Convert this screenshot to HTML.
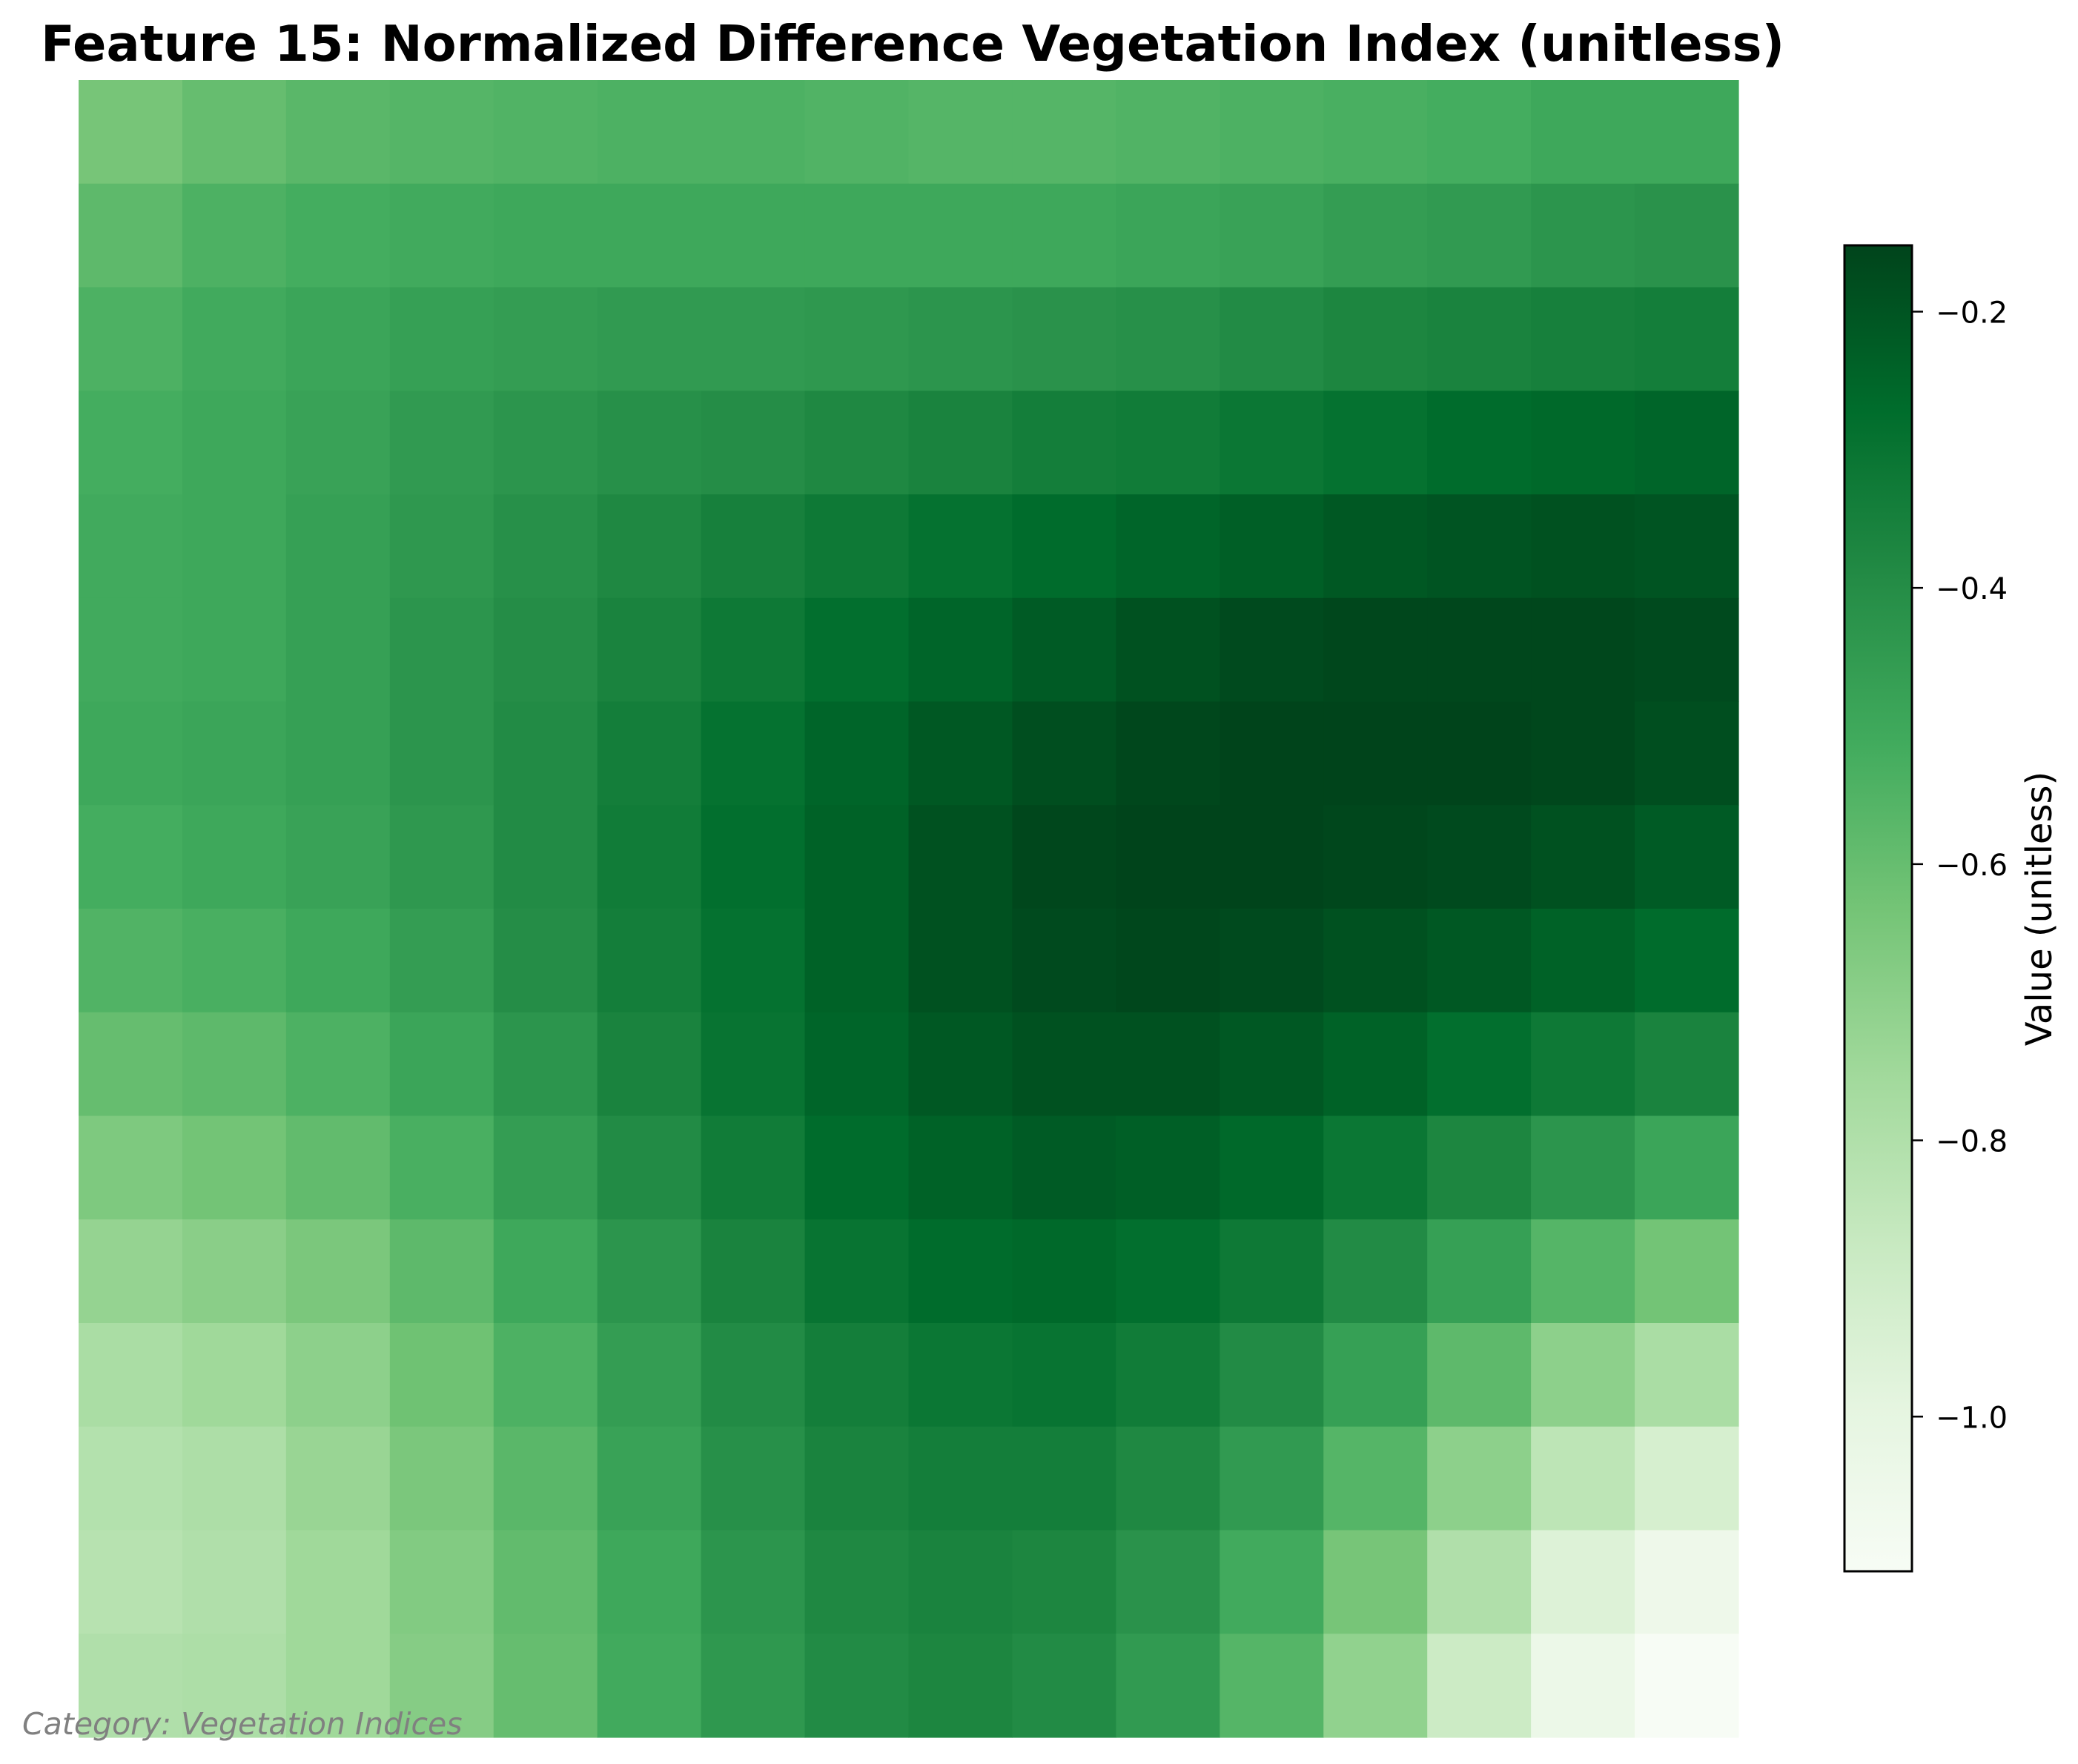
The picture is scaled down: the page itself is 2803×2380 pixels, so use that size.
<!DOCTYPE html>
<html><head><meta charset="utf-8"><style>
html,body{margin:0;padding:0;background:#fff;}
svg{display:block;}
text{font-family:"DejaVu Sans","Liberation Sans",sans-serif;}
</style></head><body>
<svg id="chart" width="2803" height="2380" viewBox="0 0 2803 2380" xmlns="http://www.w3.org/2000/svg">
<defs>
<linearGradient id="cbgrad" x1="0" y1="1" x2="0" y2="0">
<stop offset="0" stop-color="#f7fcf5"/><stop offset="0.125" stop-color="#e5f5e0"/><stop offset="0.25" stop-color="#c7e9c0"/><stop offset="0.375" stop-color="#a1d99b"/><stop offset="0.5" stop-color="#74c476"/><stop offset="0.625" stop-color="#41ab5d"/><stop offset="0.75" stop-color="#238b45"/><stop offset="0.875" stop-color="#006d2c"/><stop offset="1" stop-color="#00441b"/>
</linearGradient>
</defs>
<text x="55" y="82" font-size="67" font-weight="bold">Feature 15: Normalized Difference Vegetation Index (unitless)</text>
<g id="heat"></g>
<rect x="2488" y="331" width="91" height="1789" fill="url(#cbgrad)" stroke="#000" stroke-width="3"/>
<g id="cbticks"></g>
<text transform="translate(2767,1226) rotate(-90)" text-anchor="middle" font-size="48">Value (unitless)</text>
<text x="30" y="2340" font-size="41" font-style="italic" fill="#808080">Category: Vegetation Indices</text>
</svg>
<script>
const rowLabels = [0,1,2,3,4,5,6,7,8,9,10,11,12,13,14,15];
const colLabels = [0,1,2,3,4,5,6,7,8,9,10,11,12,13,14,15];
const values = [
[-0.64,-0.6,-0.57,-0.56,-0.55,-0.54,-0.54,-0.55,-0.56,-0.56,-0.55,-0.54,-0.53,-0.52,-0.5,-0.5],
[-0.58,-0.54,-0.52,-0.51,-0.5,-0.5,-0.5,-0.5,-0.5,-0.5,-0.49,-0.48,-0.46,-0.45,-0.43,-0.42],
[-0.54,-0.51,-0.49,-0.47,-0.46,-0.45,-0.45,-0.44,-0.43,-0.42,-0.41,-0.39,-0.37,-0.36,-0.35,-0.34],
[-0.52,-0.5,-0.48,-0.45,-0.43,-0.41,-0.4,-0.38,-0.36,-0.34,-0.33,-0.31,-0.29,-0.27,-0.26,-0.25],
[-0.51,-0.5,-0.47,-0.44,-0.41,-0.38,-0.35,-0.32,-0.29,-0.27,-0.25,-0.23,-0.21,-0.2,-0.19,-0.2],
[-0.51,-0.5,-0.47,-0.43,-0.4,-0.36,-0.32,-0.28,-0.25,-0.22,-0.19,-0.17,-0.16,-0.16,-0.16,-0.17],
[-0.5,-0.49,-0.47,-0.43,-0.39,-0.34,-0.29,-0.25,-0.21,-0.18,-0.16,-0.15,-0.15,-0.15,-0.16,-0.18],
[-0.52,-0.5,-0.48,-0.44,-0.39,-0.33,-0.28,-0.24,-0.19,-0.16,-0.15,-0.15,-0.16,-0.17,-0.19,-0.22],
[-0.55,-0.53,-0.5,-0.46,-0.4,-0.34,-0.29,-0.24,-0.19,-0.17,-0.16,-0.17,-0.19,-0.21,-0.24,-0.27],
[-0.6,-0.58,-0.54,-0.49,-0.43,-0.36,-0.3,-0.25,-0.21,-0.19,-0.19,-0.21,-0.24,-0.28,-0.32,-0.36],
[-0.66,-0.63,-0.59,-0.53,-0.46,-0.39,-0.33,-0.27,-0.24,-0.22,-0.23,-0.26,-0.31,-0.37,-0.43,-0.49],
[-0.72,-0.69,-0.65,-0.58,-0.5,-0.43,-0.36,-0.3,-0.27,-0.26,-0.28,-0.32,-0.39,-0.47,-0.56,-0.63],
[-0.78,-0.75,-0.7,-0.62,-0.54,-0.46,-0.39,-0.34,-0.31,-0.3,-0.33,-0.39,-0.47,-0.58,-0.7,-0.78],
[-0.81,-0.79,-0.73,-0.65,-0.57,-0.48,-0.41,-0.36,-0.34,-0.34,-0.38,-0.45,-0.56,-0.7,-0.84,-0.93],
[-0.82,-0.8,-0.75,-0.67,-0.59,-0.5,-0.43,-0.38,-0.36,-0.37,-0.42,-0.51,-0.64,-0.8,-0.96,-1.05],
[-0.8,-0.79,-0.75,-0.68,-0.6,-0.51,-0.44,-0.39,-0.37,-0.39,-0.45,-0.56,-0.71,-0.89,-1.04,-1.11]
];
const cbTicks = [-0.2,-0.4,-0.6,-0.8,-1.0];
const cbTickLabels = ["\u22120.2","\u22120.4","\u22120.6","\u22120.8","\u22121.0"];
const vmin = -1.112, vmax = -0.152;

const NS = "http://www.w3.org/2000/svg";
const X0=106, X1=2345, Y0=108, Y1=2344;
const CBY0=331, CBY1=2120;
const stops = ["#f7fcf5","#e5f5e0","#c7e9c0","#a1d99b","#74c476","#41ab5d","#238b45","#006d2c","#00441b"];
function hex(c){return [1,3,5].map(i=>parseInt(c.substr(i,2),16));}
function cmap(v){
  let t=(v-vmin)/(vmax-vmin); t=Math.max(0,Math.min(1,t));
  const p=t*8, i=Math.min(7,Math.floor(p)), f=p-i;
  const a=hex(stops[i]), b=hex(stops[i+1]);
  return "rgb("+a.map((x,k)=>Math.round(x+(b[k]-x)*f)).join(",")+")";
}
const xScale = c => X0 + (X1-X0)*c/colLabels.length;
const yScale = r => Y0 + (Y1-Y0)*r/rowLabels.length;
const cbScale = v => CBY1 - (v-vmin)/(vmax-vmin)*(CBY1-CBY0);

const heat = document.getElementById('heat');
rowLabels.forEach((r,ri)=>{
  colLabels.forEach((c,ci)=>{
    const el=document.createElementNS(NS,'rect');
    
    
    const x=xScale(ci), y=yScale(ri);
    el.setAttribute('x', x); el.setAttribute('y', y);
    el.setAttribute('width', xScale(ci+1)-x+0.6);
    el.setAttribute('height', yScale(ri+1)-y+0.6);
    el.setAttribute('fill', cmap(values[ri][ci]));
    heat.appendChild(el);
  });
});
const tg=document.getElementById('cbticks');
cbTicks.forEach((v,i)=>{
  const y=cbScale(v);
  const ln=document.createElementNS(NS,'line');
  
  
  ln.setAttribute('x1',2579); ln.setAttribute('x2',2594);
  ln.setAttribute('y1',y); ln.setAttribute('y2',y);
  ln.setAttribute('stroke','#000'); ln.setAttribute('stroke-width',2.5);
  tg.appendChild(ln);
  const t=document.createElementNS(NS,'text');
  
  
  t.setAttribute('x',2611); t.setAttribute('y',y+15);
  t.setAttribute('font-size',40);
  t.textContent=cbTickLabels[i];
  tg.appendChild(t);
});
</script>
</body></html>
